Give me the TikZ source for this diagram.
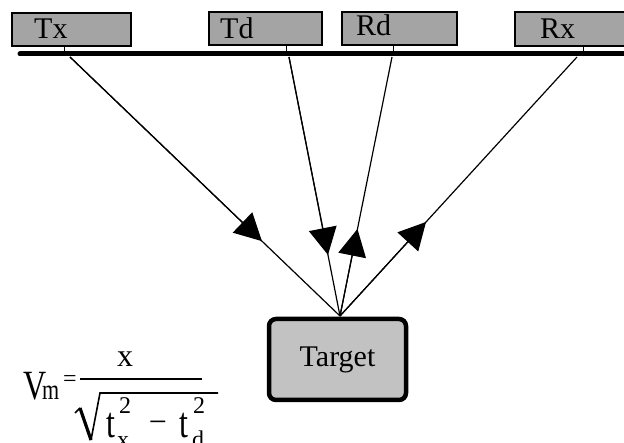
\documentclass[tikz,border=0pt]{standalone}
\usepackage{fontspec}
\setmainfont{Liberation Serif}
\usetikzlibrary{arrows.meta,calc}
\definecolor{boxgray}{HTML}{A4A4A4}
\definecolor{tgtgray}{HTML}{C2C2C2}
\newcommand{\tall}[2][1.3]{\scalebox{1}[#1]{#2}}
\begin{document}
\begin{tikzpicture}[x=1pt,y=-1pt,
  antbox/.style={draw=black,line width=1.6pt,fill=boxgray},
  lbl/.style={anchor=base west,inner sep=0pt,font=\fontsize{30}{30}\selectfont},
  ray/.style={line width=1.2pt},
  tip/.style={-{Triangle[length=27pt,width=28pt]}},
  fml/.style={inner sep=0pt,font=\fontsize{32}{32}\selectfont},
  fmls/.style={inner sep=0pt,font=\fontsize{24}{24}\selectfont}]
\useasboundingbox (0,0) rectangle (624,443);
\clip (0,0) rectangle (624,443);
% antenna boxes
\draw[antbox] (12,13) rectangle (131,46);
\draw[antbox] (209,12) rectangle (322,45);
\draw[antbox] (342,12) rectangle (457,45);
\draw[antbox] (515,12) rectangle (640,46);
\node[lbl] (tx) at (34,39) {Tx};
\node[lbl] (td) at (220,39) {Td};
\node[lbl] (rd) at (356,36) {Rd};
\node[lbl] (rx) at (540,39) {Rx};
% bar
\coordinate (bl) at (20,54);
\coordinate (br) at (624,54);
\draw[line width=5pt,line cap=round] (bl) -- (br);
% ticks
\draw[line width=1pt] (64,46) -- (64,54);
\draw[line width=1pt] (286,45) -- (286,54);
\draw[line width=1pt] (393,45) -- (393,54);
\draw[line width=1pt] (583,46) -- (583,54);
% target
\node[draw=black,line width=4.5pt,rounded corners=7pt,fill=tgtgray,
  minimum width=137pt,minimum height=81pt,inner sep=0pt,
  font=\fontsize{30}{30}\selectfont] (tg) at (337.5,359.5) {Target};
\coordinate (c) at (340,316);
% bar points
\coordinate (ptx) at (70,57);
\coordinate (ptd) at (289,57);
\coordinate (prd) at (392,57);
\coordinate (prx) at (577,57);
% rays with arrowheads
\path[ray,draw] (ptx) -- (c);
\path[ray,draw] (ptd) -- (c);
\path[ray,draw] (prd) -- (c);
\path[ray,draw] (prx) -- (c);
\path[tip,ray,draw] (ptx) -- ($(ptx)!0.711!(c)$);
\path[tip,ray,draw] (ptd) -- ($(ptd)!0.764!(c)$);
\path[tip,ray,draw] (c) -- ($(c)!0.336!(prd)$);
\path[tip,ray,draw] (c) -- ($(c)!0.363!(prx)$);
% formula
\node[fml,anchor=base west] (fv) at (23,400) {\tall{V}};
\node[inner sep=0pt,font=\fontsize{22}{22}\selectfont,anchor=base west] (fm) at (42,400) {\tall[1.3]{m}};
\node[fmls] (feq) at (70,381) {=};
\draw[line width=2pt] (80,379) -- (202,379);
\node[fml,anchor=base] (fx) at (125,367) {x};
\draw[line width=1.6pt] (75,413) -- (80,408);
\draw[line width=3.2pt] (80,408) -- (91,440);
\draw[line width=1.6pt] (91,440) -- (100,393) -- (218,393);
\node[fml,anchor=base west] (ft1) at (106,438) {\tall[1.35]{t}};
\node[fmls,anchor=base west] (fs1) at (119,414) {2};
\node[fmls,anchor=base west] (fb1) at (117,447) {x};
\node[fml] (fmin) at (158,427) {−};
\node[fml,anchor=base west] (ft2) at (179,438) {\tall[1.35]{t}};
\node[fmls,anchor=base west] (fs2) at (193,414) {2};
\node[fmls,anchor=base west] (fb2) at (192,447) {d};
\end{tikzpicture}
\end{document}
